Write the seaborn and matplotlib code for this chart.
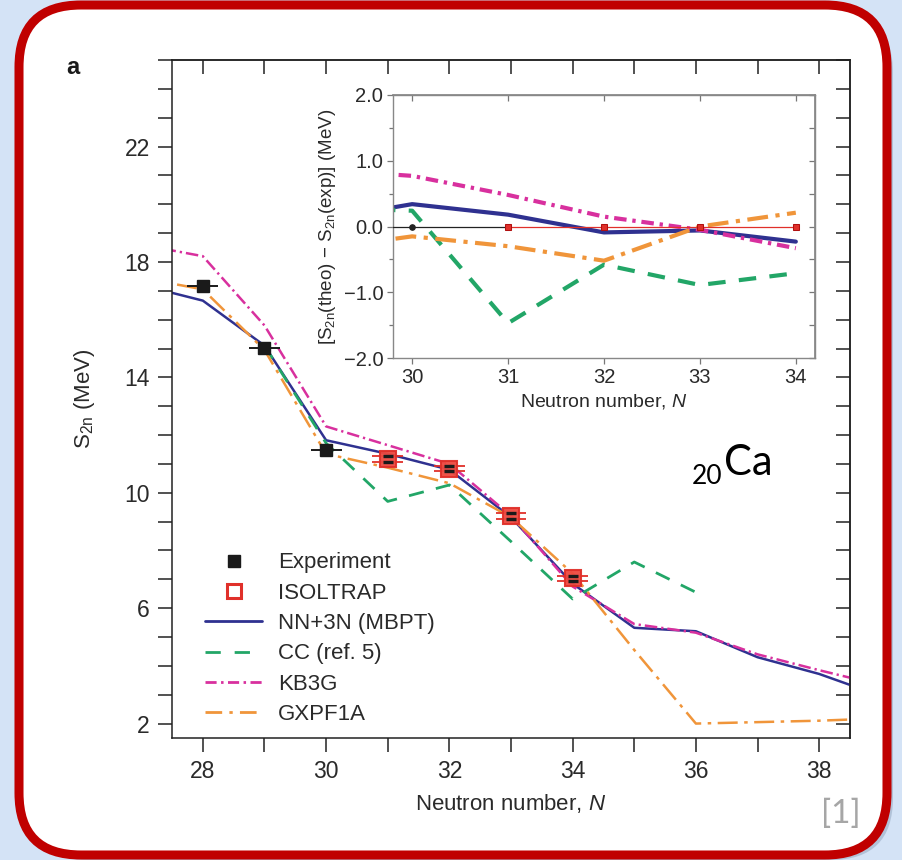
import matplotlib
matplotlib.use("Agg")
import matplotlib.pyplot as plt
import numpy as np
import pandas as pd
import seaborn as sns
from matplotlib.patches import FancyBboxPatch
from matplotlib.lines import Line2D
from matplotlib.ticker import MultipleLocator, FixedLocator, NullFormatter, FuncFormatter

# --- Main panel data (S2n in MeV) ---
n_exp = [28, 29, 30]
s2n_exp = [17.17, 15.03, 11.48]
xerr_exp = [0.25, 0.25, 0.25]

n_iso = [31, 32, 33, 34]
s2n_iso = [11.17, 10.84, 9.2, 7.03]
xerr_iso = [0.25, 0.25, 0.25, 0.25]

n_theory = [27, 28, 29, 30, 31, 32, 33, 34, 35, 36, 37, 38, 39]
s2n_nn3n = [17.2, 16.66, 15.1, 11.82, 11.35, 10.8, 9.15, 6.85, 5.32, 5.2, 4.3, 3.72, 2.96]
s2n_kb3g = [18.6, 18.2, 15.8, 12.3, 11.65, 11.0, 9.2, 6.75, 5.45, 5.15, 4.4, 3.85, 3.33]
s2n_gxpf1a = [17.45, 17.05, 14.95, 11.35, 10.87, 10.33, 9.15, 7.2, 4.55, 2.0, 2.05, 2.1, 2.18]

n_cc = [29, 30, 31, 32, 33, 34, 35, 36]
s2n_cc = [15.1, 11.72, 9.7, 10.27, 8.31, 6.32, 7.6, 6.55]

# --- Inset data: S2n(theo) - S2n(exp) ---
n_diff = [29, 30, 31, 32, 33, 34]
d_nn3n = [0.09, 0.34, 0.18, -0.09, -0.06, -0.23]
d_cc = [0.29, 0.24, -1.47, -0.58, -0.89, -0.71]
d_kb3g = [0.87, 0.77, 0.48, 0.15, -0.05, -0.33]
d_gxpf1a = [-0.35, -0.15, -0.30, -0.52, 0.0, 0.21]
n_ref_exp = [29, 30, 31]
d_ref_exp = [0.0, 0.0, 0.0]
n_ref_iso = [31, 32, 33, 34]
d_ref_iso = [0.0, 0.0, 0.0, 0.0]

# colours
c_blue = "#2f3190"
c_green = "#22a667"
c_magenta = "#d8309e"
c_orange = "#f0953a"
c_red = "#e0302a"

sns.set_theme(style="ticks")
plt.rcParams["font.family"] = ["Liberation Sans", "DejaVu Sans"]
plt.rcParams["mathtext.fontset"] = "custom"
plt.rcParams["mathtext.rm"] = "Liberation Sans"
plt.rcParams["mathtext.it"] = "Liberation Sans:italic"
plt.rcParams["mathtext.bf"] = "Liberation Sans:bold"

fig = plt.figure(figsize=(9.02, 8.6), dpi=100)
fig.patch.set_facecolor("#d4e3f6")

# slide-style frame (behind the axes)
shadow = FancyBboxPatch((0.26, 0.0), 8.67, 8.49, boxstyle="round,pad=0,rounding_size=0.62",
                        transform=fig.dpi_scale_trans, fc="#a3b4cc", ec="none", alpha=0.7, zorder=-2)
frame = FancyBboxPatch((0.19, 0.05), 8.68, 8.50, boxstyle="round,pad=0,rounding_size=0.62",
                       transform=fig.dpi_scale_trans, fc="white", ec="#c00000", lw=6.5, zorder=-1)
fig.add_artist(shadow)
fig.add_artist(frame)

# --- main axes ---
ax = fig.add_axes([172 / 902, 1 - 738 / 860, 678 / 902, 678 / 860])
ax.set_facecolor("none")

sns.lineplot(x=n_theory, y=s2n_nn3n, ax=ax, color=c_blue, lw=1.8, zorder=2)
sns.lineplot(x=n_cc, y=s2n_cc, ax=ax, color=c_green, lw=2.0, linestyle=(0, (5.5, 4.5)), zorder=2)
sns.lineplot(x=n_theory, y=s2n_kb3g, ax=ax, color=c_magenta, lw=1.8, linestyle=(0, (5, 1.6, 0.9, 1.6)), zorder=2)
sns.lineplot(x=n_theory, y=s2n_gxpf1a, ax=ax, color=c_orange, lw=1.8, linestyle=(0, (8, 2.6, 1.4, 2.6)), zorder=2)

# experiment
ax.errorbar(n_exp, s2n_exp, xerr=xerr_exp, fmt="s", color="#1a1a1a", ms=8.5, elinewidth=1.4,
            capsize=0, zorder=4)
# ISOLTRAP: double error bars, red square with inner black bars
iso_y = np.array(s2n_iso)
for off in (-0.1, 0.1):
    ax.errorbar(n_iso, iso_y + off, xerr=xerr_iso, fmt="none", ecolor=c_red, elinewidth=1.3,
                capsize=0, zorder=4)
ax.plot(n_iso, s2n_iso, "s", ms=12, mfc="#ee4a40", mec=c_red, mew=1.5, alpha=0.95, zorder=5)
for off in (-0.1, 0.1):
    ax.plot(n_iso, iso_y + off, "_", ms=7, mew=2.4, color="#1a1a1a", zorder=6)

ax.set_xlim(27.5, 38.5)
ax.set_ylim(1.5, 25)
ax.xaxis.set_major_locator(MultipleLocator(2))
ax.xaxis.set_minor_locator(MultipleLocator(1))
ax.yaxis.set_major_locator(FixedLocator([2, 6, 10, 14, 18, 22]))
ax.yaxis.set_minor_locator(MultipleLocator(1))
ax.tick_params(which="both", direction="out", length=10, width=1.1, color="#222222",
               labelsize=16.5, labelcolor="#2a2a2a", pad=6)
for s in ax.spines.values():
    s.set_linewidth(1.1)
    s.set_color("#222222")
    s.set_visible(True)

secx = ax.secondary_xaxis("top")
secx.xaxis.set_major_locator(MultipleLocator(1))
secx.xaxis.set_major_formatter(NullFormatter())
secx.tick_params(direction="in", length=10, width=1.1, color="#222222")
secx.spines["top"].set_linewidth(1.1)
secy = ax.secondary_yaxis("right")
secy.yaxis.set_major_locator(MultipleLocator(1))
secy.yaxis.set_major_formatter(NullFormatter())
secy.tick_params(direction="in", length=10, width=1.1, color="#222222")
secy.spines["right"].set_linewidth(1.1)

ax.set_xlabel(r"Neutron number, $\mathit{N}$", fontsize=16, color="#2a2a2a")
ax.set_ylabel(r"S$_{\mathrm{2n}}$ (MeV)", fontsize=16, color="#2a2a2a")
ax.xaxis.set_label_coords(0.5, -0.08)
ax.yaxis.set_label_coords(-0.11, 0.5)

handles = [
    Line2D([], [], ls="none", marker="s", ms=8, color="#1a1a1a"),
    Line2D([], [], ls="none", marker="s", ms=10, mfc="white", mec=c_red, mew=2.2),
    Line2D([], [], color=c_blue, lw=2.0),
    Line2D([], [], color=c_green, lw=2.0, ls=(0, (5.5, 5))),
    Line2D([], [], color=c_magenta, lw=2.0, ls=(0, (4, 1.6, 0.9, 1.6))),
    Line2D([], [], color=c_orange, lw=2.0, ls=(0, (6, 2.6, 1.2, 2.6))),
]
labels = ["Experiment", "ISOLTRAP", "NN+3N (MBPT)", "CC (ref. 5)", "KB3G", "GXPF1A"]
ax.legend(handles, labels, loc="lower left", bbox_to_anchor=(0.035, 0.006), borderaxespad=0,
          frameon=False, fontsize=16, handlelength=2.6, handletextpad=0.7, labelspacing=0.42,
          labelcolor="#2a2a2a")

# --- inset ---
axin = fig.add_axes([393 / 902, 1 - 358 / 860, 422 / 902, 263 / 860])
axin.set_facecolor("white")
axin.set_zorder(ax.get_zorder() + 1)

sns.lineplot(x=n_ref_exp, y=d_ref_exp, ax=axin, color="#222222", lw=0.9, marker="o", ms=4,
             mec="#222222", zorder=3)
sns.lineplot(x=n_ref_iso, y=d_ref_iso, ax=axin, color=c_red, lw=0.9, marker="s", ms=5,
             mec="#b01010", zorder=3)
sns.lineplot(x=n_diff, y=d_nn3n, ax=axin, color=c_blue, lw=3.0, zorder=2)
sns.lineplot(x=n_diff, y=d_cc, ax=axin, color=c_green, lw=3.0, linestyle=(0, (4.2, 3.2)), zorder=2)
sns.lineplot(x=n_diff, y=d_kb3g, ax=axin, color=c_magenta, lw=3.0, linestyle=(0, (3, 1.4, 0.8, 1.4)), zorder=2)
sns.lineplot(x=n_diff, y=d_gxpf1a, ax=axin, color=c_orange, lw=3.0, linestyle=(0, (5, 1.8, 1.0, 1.8)), zorder=2)

axin.set_xlim(29.8, 34.2)
axin.set_ylim(-2.0, 2.0)
axin.xaxis.set_major_locator(MultipleLocator(1))
axin.yaxis.set_major_locator(MultipleLocator(1.0))
axin.yaxis.set_minor_locator(MultipleLocator(0.5))
axin.yaxis.set_major_formatter(FuncFormatter(lambda v, _: f"{v:.1f}".replace("-", "\u2212")))
axin.tick_params(which="both", direction="out", length=4.5, width=0.9, color="#777777",
                 labelsize=14.5, labelcolor="#2a2a2a", pad=2.5)
axin.tick_params(which="minor", length=3)
for s in axin.spines.values():
    s.set_visible(True)
    s.set_color("#888888")
    s.set_linewidth(1.0)
sx = axin.secondary_xaxis("top")
sx.xaxis.set_major_locator(MultipleLocator(1))
sx.xaxis.set_major_formatter(NullFormatter())
sx.tick_params(direction="in", length=4.5, width=0.9, color="#777777")
sx.spines["top"].set_color("#888888")
sy = axin.secondary_yaxis("right")
sy.yaxis.set_major_locator(MultipleLocator(0.5))
sy.yaxis.set_major_formatter(NullFormatter())
sy.tick_params(direction="in", length=4.5, width=0.9, color="#777777")
sy.spines["right"].set_color("#888888")

axin.set_xlabel(r"Neutron number, $\mathit{N}$", fontsize=14, color="#2a2a2a")
axin.set_ylabel(r"[S$_{\mathrm{2n}}$(theo) $-$ S$_{\mathrm{2n}}$(exp)] (MeV)", fontsize=13.5, color="#2a2a2a")
axin.xaxis.set_label_coords(0.5, -0.13)
axin.yaxis.set_label_coords(-0.13, 0.5)

# --- annotations ---
fig.text(73 / 902, 1 - 67 / 860, "a", fontsize=17, fontweight="bold", ha="center", va="center",
         color="#1a1a1a")
fig.text(724 / 902, 1 - 475 / 860, "Ca", fontsize=30, family=["Lato", "DejaVu Sans"],
         ha="left", va="baseline", color="black")
fig.text(722 / 902, 1 - 484 / 860, "20", fontsize=19, family=["Lato", "DejaVu Sans"],
         ha="right", va="baseline", color="black")
fig.text(841 / 902, 1 - 814 / 860, "[1]", fontsize=24, family=["Lato", "DejaVu Sans"],
         ha="center", va="center", color="#a6a6a6")

fig.savefig("out.png", dpi=100, facecolor=fig.get_facecolor())
